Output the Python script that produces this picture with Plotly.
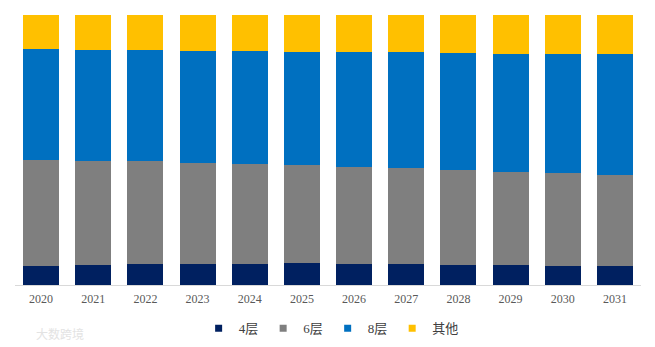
import plotly.graph_objects as go

# Share of each layer count per year (%), bars stacked to 100%
years = ["2020", "2021", "2022", "2023", "2024", "2025",
         "2026", "2027", "2028", "2029", "2030", "2031"]
layer4 = [7.2, 7.5, 7.9, 7.9, 7.9, 8.3, 7.9, 7.9, 7.5, 7.5, 7.2, 7.2]
layer6 = [39.1, 38.3, 38.0, 37.2, 36.9, 36.1, 35.9, 35.5, 35.1, 34.4, 34.4, 33.7]
layer8 = [41.2, 41.1, 41.1, 41.4, 41.8, 41.8, 42.4, 42.8, 43.2, 43.5, 43.9, 44.6]
others = [12.5, 13.1, 13.0, 13.5, 13.4, 13.8, 13.8, 13.8, 14.2, 14.6, 14.5, 14.5]

series_names = ["4层", "6层", "8层", "其他"]
series_values = [layer4, layer6, layer8, others]
colors = ["#002060", "#7F7F7F", "#0070C0", "#FFC000"]

fig = go.Figure()
for name, vals, col in zip(series_names, series_values, colors):
    fig.add_trace(go.Bar(
        x=years, y=vals, name=name, marker=dict(color=col, line=dict(width=0)),
        showlegend=False, hoverinfo="x+y+name",
    ))

# Small square legend keys
for name, col in zip(series_names, colors):
    fig.add_trace(go.Scatter(
        x=[None], y=[None], mode="markers", name=name,
        marker=dict(symbol="square", size=7, color=col),
    ))

fig.update_layout(
    width=655, height=347,
    margin=dict(l=15, r=14, t=15, b=62, autoexpand=False),
    barmode="stack", bargap=0.31,
    plot_bgcolor="white", paper_bgcolor="white",
    xaxis=dict(
        type="category", showgrid=False, zeroline=False,
        showline=True, linecolor="#D9D9D9", linewidth=1,
        ticks="", ticklabelstandoff=3,
        tickfont=dict(family="Liberation Serif", size=12, color="#595959"),
    ),
    yaxis=dict(range=[0, 100], visible=False, showgrid=False),
    legend=dict(
        orientation="h", x=0.505, xanchor="center", y=-0.16, yanchor="middle",
        traceorder="normal",
        font=dict(family="Liberation Serif, Noto Sans CJK SC", size=13, color="#404040"),
        itemwidth=30, tracegroupgap=0,
    ),
    annotations=[dict(
        text="大数跨境", xref="paper", yref="paper", x=0.03, y=-0.18,
        xanchor="left", yanchor="middle", showarrow=False,
        font=dict(family="Noto Sans CJK SC", size=12, color="#E3E3E3"),
    )],
)

fig.write_html("out.html")
